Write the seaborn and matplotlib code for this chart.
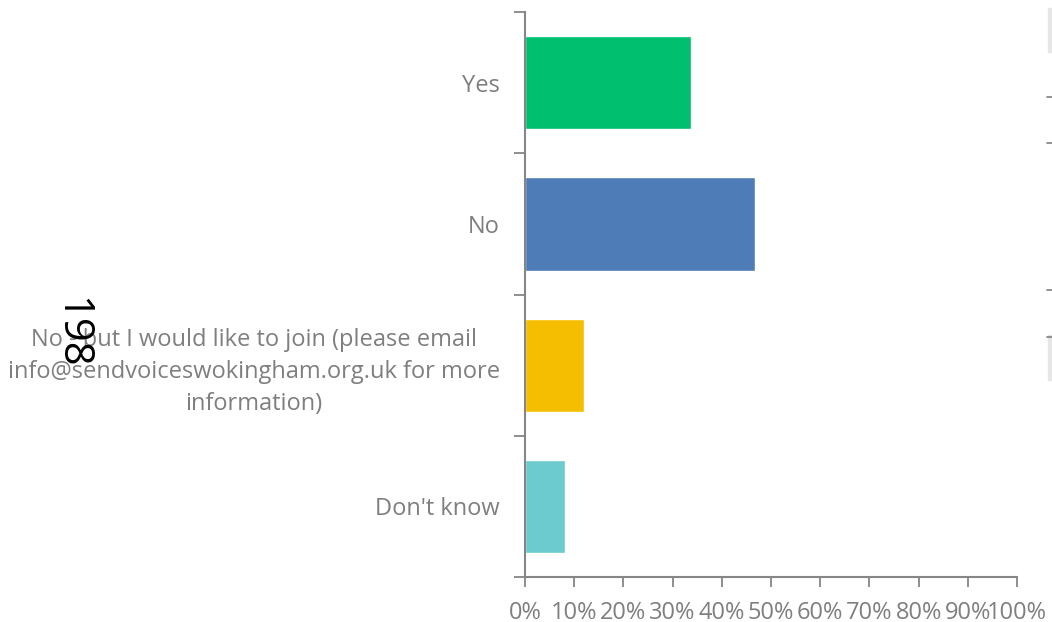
import matplotlib
matplotlib.use("Agg")
import matplotlib.pyplot as plt
import matplotlib.patches as mpatches
import matplotlib.lines as mlines
from matplotlib.ticker import FixedLocator, PercentFormatter
import seaborn as sns
import pandas as pd

# data
categories = [
    "Yes",
    "No",
    "No - but I would like to join (please email\ninfo@sendvoiceswokingham.org.uk for more\ninformation)",
    "Don't know",
]
shares = [33.7, 46.7, 12.0, 8.1]
bar_colors = ["#00BF6F", "#4E7CB6", "#F6BE00", "#6BCBCE"]
x_ticks = list(range(0, 101, 10))

sns.set_theme(style="white")
plt.rcParams["font.family"] = ["Open Sans", "DejaVu Sans"]

grey = "#7F7F7F"
axis_grey = "#868686"

df = pd.DataFrame({"answer": categories, "share": shares})

fig = plt.figure(figsize=(10.52, 6.22), dpi=100)
ax = fig.add_axes([0.499, 0.0723, 0.4677, 0.9084])

sns.barplot(data=df, x="share", y="answer", hue="answer", palette=bar_colors,
            legend=False, width=0.66, saturation=1, ax=ax)

ax.set_xlim(0, 100)
ax.set_ylim(len(categories) - 0.5, -0.5)
ax.set_xlabel("")
ax.set_ylabel("")

ax.xaxis.set_major_locator(FixedLocator(x_ticks))
ax.xaxis.set_major_formatter(PercentFormatter(decimals=0))
ax.tick_params(axis="x", which="major", direction="out", length=7, width=1.3,
               color=axis_grey, labelcolor=grey, labelsize=17, pad=10, bottom=True)

# category labels at bar centres, ticks at category boundaries
ax.tick_params(axis="y", which="major", length=0, labelcolor=grey, labelsize=17, pad=18)
ax.yaxis.set_minor_locator(FixedLocator([i - 0.5 for i in range(len(categories) + 1)]))
ax.tick_params(axis="y", which="minor", direction="out", length=8, width=1.3,
               color=axis_grey, left=True)
for lbl in ax.get_yticklabels():
    lbl.set_multialignment("center")
    lbl.set_linespacing(1.43)

for side in ["top", "right"]:
    ax.spines[side].set_visible(False)
for side in ["left", "bottom"]:
    ax.spines[side].set_color(axis_grey)
    ax.spines[side].set_linewidth(1.5)

# page number overlaying the chart
fig.text(0.0675, 0.4646, "198", rotation=270, fontsize=30, color="black",
         ha="center", va="center")

# clipped pieces of a neighbouring chart at the right edge
fig.patches.append(mpatches.Rectangle((1048 / 1052, 1 - 52 / 622), 4 / 1052, 44 / 622,
                                      transform=fig.transFigure, color="#E6E6E6"))
fig.patches.append(mpatches.Rectangle((1048 / 1052, 1 - 380 / 622), 4 / 1052, 45 / 622,
                                      transform=fig.transFigure, color="#E6E6E6"))
for yp in [97, 143, 290, 337]:
    fig.lines.append(mlines.Line2D([1047 / 1052, 1.0], [1 - yp / 622] * 2,
                                   transform=fig.transFigure, color=grey, lw=1.2))

fig.savefig("out.png", dpi=100)
